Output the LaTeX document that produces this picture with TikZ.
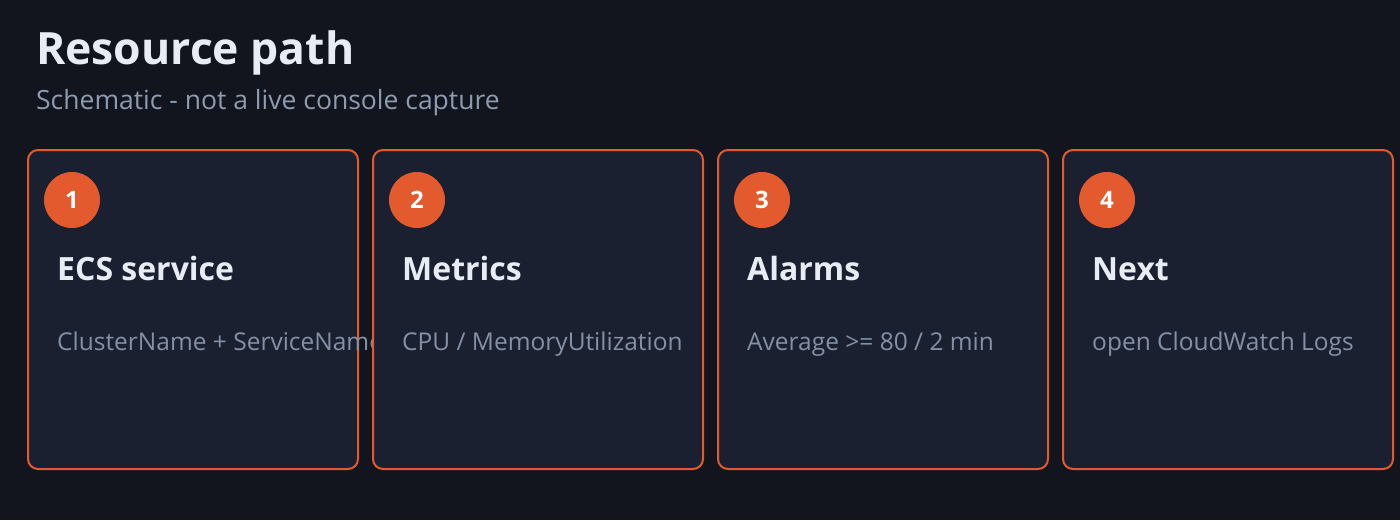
\documentclass[tikz,border=0pt]{standalone}
\usepackage{fontspec}
\setmainfont{Open Sans}
\definecolor{bg}{HTML}{12151D}
\definecolor{card}{HTML}{1B2030}
\definecolor{accent}{HTML}{E35A2E}
\definecolor{titlec}{HTML}{E8EDF5}
\definecolor{subc}{HTML}{8E9BB0}
\definecolor{bodyc}{HTML}{8390A6}
\tikzset{
  cardbox/.style={draw=accent, line width=2pt, fill=card, rounded corners=10pt},
  badge/.style={circle, fill=accent, minimum size=56pt, inner sep=0pt, text=white, font=\fontsize{24}{28}\selectfont\bfseries},
  cardtitle/.style={anchor=base west, inner sep=0pt, text=titlec, font=\fontsize{32}{38}\selectfont\bfseries},
  cardbody/.style={anchor=base west, inner sep=0pt, text=bodyc, font=\fontsize{24.5}{29}\selectfont},
}
\newcommand{\makecard}[5]{%
  \draw[cardbox] (#2,150) rectangle ++(330,319);
  \node[badge] (b#1) at (#2+44,200) {#1};
  \node[cardtitle] (t#1) at (#2+29,280) {#3};
  \begin{scope}
    \clip (#2,150) rectangle ++(344,319);
    \node[cardbody] (d#1) at (#2+29,350) {#4};
  \end{scope}
}
\begin{document}
\begin{tikzpicture}[x=1pt,y=-1pt]
\fill[bg] (0,0) rectangle (1400,520);
\useasboundingbox (0,0) rectangle (1400,520);
\node[anchor=base west, inner sep=0pt, text=titlec, font=\fontsize{44.5}{52}\selectfont\bfseries] (title) at (36,64) {Resource path};
\node[anchor=base west, inner sep=0pt, text=subc, font=\fontsize{26.5}{31}\selectfont] (subtitle) at (36,109) {Schematic - not a live console capture};
\makecard{1}{28}{ECS service}{ClusterName + ServiceName}{}
\makecard{2}{373}{Metrics}{CPU / MemoryUtilization}{}
\makecard{3}{718}{Alarms}{Average >= 80 / 2 min}{}
\makecard{4}{1063}{Next}{open CloudWatch Logs}{}
\end{tikzpicture}
\end{document}
